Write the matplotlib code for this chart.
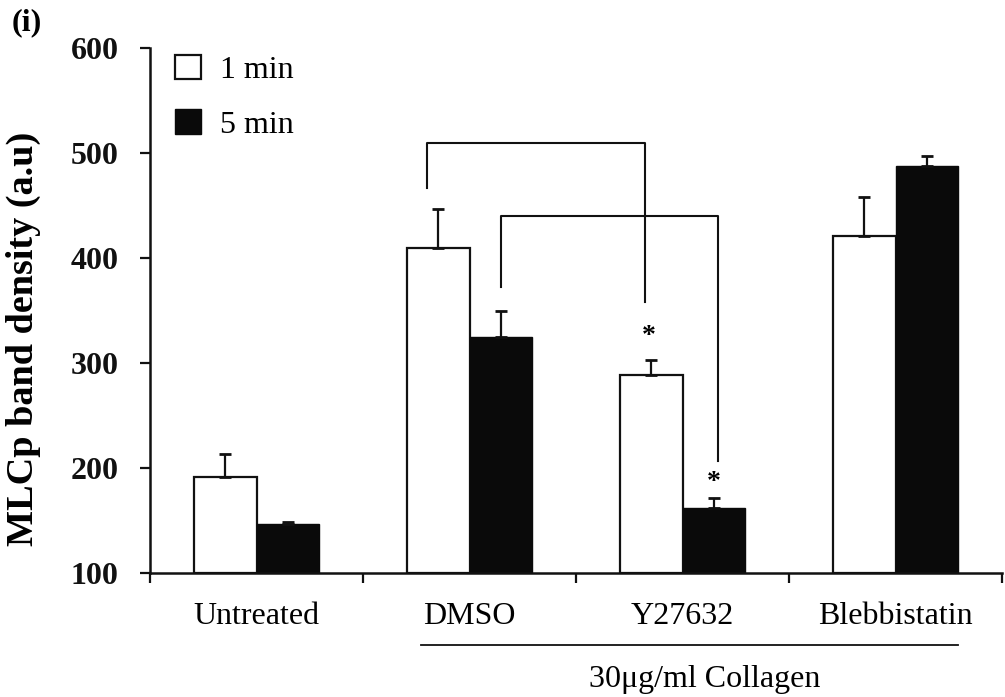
import matplotlib
matplotlib.use("Agg")
import matplotlib.pyplot as plt
from matplotlib.patches import Patch
import numpy as np

categories = ["Untreated", "DMSO", "Y27632", "Blebbistatin"]
series_names = ["1 min", "5 min"]
vals_1min = [191, 410, 289, 421]
vals_5min = [147, 325, 162, 488]
err_1min = [22, 37, 14, 37]
err_5min = [1.5, 25, 9, 9]
yticks = [100, 200, 300, 400, 500, 600]
# significance brackets: (top, left-bottom, right-bottom) in data units
bracket1 = (509.5, 467, 358)
bracket2 = (440, 372, 207)
star_vals = [325, 186]
group_label = "30\u03bcg/ml Collagen"

plt.rcParams['font.family'] = ['Liberation Serif', 'DejaVu Serif']
fig = plt.figure(figsize=(10.05, 6.97), dpi=100)
ax = fig.add_axes([150/1005, 1-573/697, (1002-150)/1005, (573-48)/697])

w = 0.295
centers = np.arange(len(categories)) + 0.5
x1 = centers - w/2
x2 = centers + w/2
ax.bar(x1, np.array(vals_1min) - 100, w, bottom=100, color='white', edgecolor='#111111', linewidth=1.6, zorder=2)
ax.bar(x2, np.array(vals_5min) - 100, w, bottom=100, color='#0a0a0a', edgecolor='#0a0a0a', linewidth=1.0, zorder=2)
ax.errorbar(x1, vals_1min, yerr=[np.zeros(4), err_1min], fmt='none', ecolor='#111111', elinewidth=1.6, capsize=4.5, capthick=2, zorder=3)
ax.errorbar(x2, vals_5min, yerr=[np.zeros(4), err_5min], fmt='none', ecolor='#111111', elinewidth=1.6, capsize=4.5, capthick=2, zorder=3)

ax.set_xlim(0, 4)
ax.set_ylim(100, 600)
ax.set_yticks(yticks)
ax.set_yticklabels([str(t) for t in yticks], fontsize=23, fontweight='bold')
ax.set_xticks(np.arange(0, 5))
ax.set_xticklabels([])
for c, lab in zip(centers, categories):
    ax.text(c, -0.083, lab, transform=ax.get_xaxis_transform(), ha='center', va='center', fontsize=23)
ax.tick_params(axis='both', direction='out', length=7.5, width=1.6, colors='#111111')
ax.tick_params(axis='y', pad=15)
for s in ['top', 'right']:
    ax.spines[s].set_visible(False)
for s in ['left', 'bottom']:
    ax.spines[s].set_linewidth(1.8)
    ax.spines[s].set_color('#111111')
ax.set_ylabel("MLCp band density (a.u)", fontsize=27.5, fontweight='bold')
ax.yaxis.set_label_coords(-0.128, 0.446)

# brackets
bx1l, bx1r = x1[1] - 0.05, x1[2] - 0.03
ax.plot([bx1l, bx1l, bx1r, bx1r], [bracket1[1], bracket1[0], bracket1[0], bracket1[2]], color='#111111', lw=1.5, zorder=4)
bx2l, bx2r = x2[1], x2[2] + 0.02
ax.plot([bx2l, bx2l, bx2r, bx2r], [bracket2[1], bracket2[0], bracket2[0], bracket2[2]], color='#111111', lw=1.5, zorder=4)
ax.text(x1[2] - 0.01, star_vals[0], "*", ha='center', va='center', fontsize=20, fontweight='bold')
ax.text(x2[2], star_vals[1], "*", ha='center', va='center', fontsize=20, fontweight='bold')

# collagen group line
fig.add_artist(plt.Line2D([421/1005, 958/1005], [1-645/697, 1-645/697], color='#111111', lw=1.3))
fig.text(705/1005, 1-679/697, group_label, ha='center', va='center', fontsize=23)

fig.text(12/1005, 1-23/697, "(i)", ha='left', va='center', fontsize=23, fontweight='bold')

handles = [Patch(facecolor='white', edgecolor='#111111', linewidth=1.6),
           Patch(facecolor='#0a0a0a', edgecolor='#0a0a0a')]
leg = fig.legend(handles, series_names, loc='upper left', bbox_to_anchor=(175/1005, 1-55/697),
                 frameon=False, fontsize=23, handlelength=0.8, handleheight=0.8,
                 handletextpad=0.6, labelspacing=0.75, borderpad=0, borderaxespad=0)

fig.savefig("out.png", dpi=100, facecolor='white')
